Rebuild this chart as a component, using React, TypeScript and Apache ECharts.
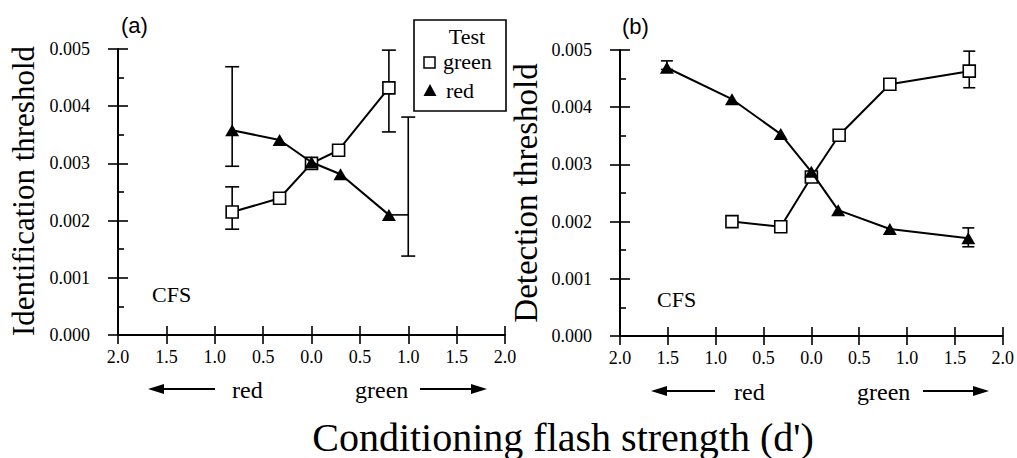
import React, { useEffect, useRef } from "react";
import * as echarts from "echarts";

// Panel (a): identification thresholds
const idGreenX = [-0.82, -0.33, 0.0, 0.28, 0.8];
const idGreenY = [0.00215, 0.00239, 0.003, 0.00323, 0.00432];
const idRedX = [-0.82, -0.33, 0.0, 0.3, 0.8];
const idRedY = [0.00358, 0.00341, 0.00302, 0.00281, 0.0021];
// error bars: [barX, low, high, pointX, pointY]
const idGreenErr = [
  [-0.82, 0.00185, 0.00259, -0.82, 0.00215],
  [0.8, 0.00355, 0.00498, 0.8, 0.00432],
];
const idRedErr = [
  [-0.82, 0.00295, 0.00469, -0.82, 0.00358],
  [1.0, 0.00138, 0.00381, 0.8, 0.0021],
];

// Panel (b): detection thresholds
const detGreenX = [-0.83, -0.32, 0.0, 0.29, 0.82, 1.65];
const detGreenY = [0.002, 0.00191, 0.00278, 0.00351, 0.0044, 0.00463];
const detRedX = [-1.51, -0.83, -0.32, 0.0, 0.28, 0.82, 1.64];
const detRedY = [0.00469, 0.00414, 0.00353, 0.00287, 0.0022, 0.00187, 0.00171];
const detGreenErr = [[1.65, 0.00434, 0.00498, 1.65, 0.00463]];
const detRedErr = [
  [-1.51, 0.00466, 0.00481, -1.51, 0.00469],
  [1.64, 0.00156, 0.00189, 1.64, 0.00171],
];

const X_MIN = -2;
const X_MAX = 2;
const X_STEP = 0.5;
const Y_MIN = 0;
const Y_MAX = 0.005;
const Y_STEP = 0.001;

const SERIF = "'Liberation Serif', 'Times New Roman', serif";
const SANS = "'Liberation Sans', Arial, sans-serif";

const zip = (xs: number[], ys: number[]) => xs.map((x, i) => [x, ys[i]]);

const errRenderer = (capHalf: number) => (params: any, api: any) => {
  const x = api.value(0);
  const lo = api.value(1);
  const hi = api.value(2);
  const px = api.value(3);
  const py = api.value(4);
  const top = api.coord([x, hi]);
  const bot = api.coord([x, lo]);
  const style = { stroke: "#000", lineWidth: 1.6, fill: null };
  const children: any[] = [
    { type: "line", shape: { x1: top[0], y1: top[1], x2: bot[0], y2: bot[1] }, style },
    { type: "line", shape: { x1: top[0] - capHalf, y1: top[1], x2: top[0] + capHalf, y2: top[1] }, style },
    { type: "line", shape: { x1: bot[0] - capHalf, y1: bot[1], x2: bot[0] + capHalf, y2: bot[1] }, style },
  ];
  if (px !== x) {
    const a = api.coord([px, py]);
    const b = api.coord([x, py]);
    children.push({ type: "line", shape: { x1: a[0], y1: a[1], x2: b[0], y2: b[1] }, style });
  }
  return { type: "group", children };
};

function xAxesFor(gridIndex: number) {
  const base = {
    type: "value",
    gridIndex,
    position: "bottom",
    min: X_MIN,
    max: X_MAX,
    interval: X_STEP,
    splitLine: { show: false },
  };
  return [
    {
      ...base,
      axisLine: { show: true, onZero: false, lineStyle: { color: "#000", width: 2 } },
      axisTick: { show: true, inside: false, length: 9, lineStyle: { color: "#000", width: 1.6 } },
      axisLabel: {
        show: true,
        margin: 13,
        color: "#000",
        fontFamily: SERIF,
        fontSize: 18,
        formatter: (v: number) => Math.abs(v).toFixed(1),
      },
    },
    {
      ...base,
      axisLine: { show: false, onZero: false },
      axisTick: { show: true, inside: true, length: 9, lineStyle: { color: "#000", width: 1.6 } },
      axisLabel: { show: false },
    },
  ];
}

function yAxesFor(gridIndex: number) {
  const base = {
    type: "value",
    gridIndex,
    position: "left",
    min: Y_MIN,
    max: Y_MAX,
    interval: Y_STEP,
    splitLine: { show: false },
  };
  return [
    {
      ...base,
      axisLine: { show: true, onZero: false, lineStyle: { color: "#000", width: 2 } },
      axisTick: { show: true, inside: false, length: 10, lineStyle: { color: "#000", width: 1.6 } },
      axisLabel: {
        show: true,
        margin: 28,
        color: "#000",
        fontFamily: SERIF,
        fontSize: 18,
        formatter: (v: number) => v.toFixed(3),
      },
    },
    {
      ...base,
      axisLine: { show: false, onZero: false },
      axisTick: { show: true, inside: true, length: 10, lineStyle: { color: "#000", width: 1.6 } },
      minorTick: { show: true, splitNumber: 2, length: 6, lineStyle: { color: "#000", width: 1.6 } },
      axisLabel: { show: false },
    },
  ];
}

function lineSeries(name: string, data: number[][], xAxisIndex: number, yAxisIndex: number, green: boolean) {
  return {
    name,
    type: "line",
    xAxisIndex,
    yAxisIndex,
    data,
    z: green ? 3 : 4,
    symbol: green ? "rect" : "triangle",
    symbolSize: green ? 12 : [14, 12],
    showSymbol: true,
    lineStyle: { color: "#000", width: 2 },
    itemStyle: green
      ? { color: "#fff", borderColor: "#000", borderWidth: 1.6 }
      : { color: "#000", borderColor: "#000", borderWidth: 0 },
  };
}

function errSeries(data: number[][], xAxisIndex: number, yAxisIndex: number, capHalf: number) {
  return {
    type: "custom",
    xAxisIndex,
    yAxisIndex,
    z: 2,
    data,
    encode: { x: [0, 3], y: [1, 2, 4] },
    renderItem: errRenderer(capHalf),
  };
}

function arrow(x1: number, x2: number, y: number) {
  // arrow from x1 (tail) to x2 (tip)
  const dir = x2 > x1 ? 1 : -1;
  const headLen = 16;
  return [
    {
      type: "line",
      shape: { x1, y1: y, x2: x2 - dir * headLen * 0.6, y2: y },
      style: { stroke: "#000", lineWidth: 1.8 },
    },
    {
      type: "polygon",
      shape: {
        points: [
          [x2, y],
          [x2 - dir * headLen, y - 5],
          [x2 - dir * headLen, y + 5],
        ],
      },
      style: { fill: "#000" },
    },
  ];
}

const text = (t: string, x: number, y: number, size: number, font: string, align = "left", extra: any = {}) => ({
  type: "text",
  x,
  y,
  style: {
    text: t,
    fontSize: size,
    fontFamily: font,
    fill: "#000",
    align,
    verticalAlign: "middle",
    ...extra,
  },
});

const vtext = (t: string, x: number, y: number, size: number) => ({
  type: "text",
  x,
  y,
  rotation: Math.PI / 2,
  style: {
    text: t,
    fontSize: size,
    fontFamily: SERIF,
    fill: "#000",
    align: "center",
    verticalAlign: "middle",
  },
});

export default function App() {
  const ref = useRef<HTMLDivElement>(null);

  useEffect(() => {
    if (!ref.current) return;
    const chart = echarts.init(ref.current, null, { renderer: "svg" });

    const option: any = {
      animation: false,
      backgroundColor: "#fff",
      textStyle: { fontFamily: SERIF },
      grid: [
        { left: 118, top: 49, width: 387, height: 286 },
        { left: 620, top: 50, width: 387, height: 286 },
      ],
      xAxis: [...xAxesFor(0), ...xAxesFor(1)],
      yAxis: [...yAxesFor(0), ...yAxesFor(1)],
      series: [
        errSeries(idGreenErr, 0, 0, 7),
        errSeries(idRedErr, 0, 0, 7),
        lineSeries("green", zip(idGreenX, idGreenY), 0, 0, true),
        lineSeries("red", zip(idRedX, idRedY), 0, 0, false),
        errSeries(detGreenErr, 2, 2, 6),
        errSeries(detRedErr, 2, 2, 6),
        lineSeries("green", zip(detGreenX, detGreenY), 2, 2, true),
        lineSeries("red", zip(detRedX, detRedY), 2, 2, false),
      ],
      graphic: [
        // panel letters
        text("(a)", 121, 25, 22, SANS, "left"),
        text("(b)", 622, 26, 22, SANS, "left"),
        // axis titles
        vtext("Identification threshold", 23, 191, 31),
        vtext("Detection threshold", 526, 193, 33),
        text("Conditioning flash strength (d')", 563, 437, 40, SERIF, "center"),
        // CFS labels
        text("CFS", 152, 294, 22, SERIF, "left"),
        text("CFS", 657, 299, 22, SERIF, "left"),
        // direction labels and arrows, panel (a)
        ...arrow(215, 148, 389),
        text("red", 232, 390, 24, SERIF, "left"),
        text("green", 355, 390, 24, SERIF, "left"),
        ...arrow(420, 487, 389),
        // direction labels and arrows, panel (b)
        ...arrow(715, 651, 391),
        text("red", 734, 392, 24, SERIF, "left"),
        text("green", 857, 392, 24, SERIF, "left"),
        ...arrow(923, 989, 391),
        // legend
        {
          type: "rect",
          shape: { x: 414, y: 20, width: 92, height: 91 },
          style: { fill: "#fff", stroke: "#000", lineWidth: 1.6 },
          z: 10,
        },
        { ...text("Test", 467, 36, 22, SERIF, "center"), z: 11 },
        {
          type: "rect",
          shape: { x: 424, y: 57, width: 11, height: 11 },
          style: { fill: "#fff", stroke: "#000", lineWidth: 1.5 },
          z: 11,
        },
        { ...text("green", 443, 61, 22, SERIF, "left"), z: 11 },
        {
          type: "polygon",
          shape: { points: [[430, 84], [423.5, 96], [436.5, 96]] },
          style: { fill: "#000" },
          z: 11,
        },
        { ...text("red", 446, 90, 22, SERIF, "left"), z: 11 },
      ],
    };

    chart.setOption(option);
    return () => chart.dispose();
  }, []);

  return (
    <div
      ref={ref}
      style={{ position: "absolute", left: 0, top: 0, width: 1017, height: 458, background: "#fff" }}
    />
  );
}
